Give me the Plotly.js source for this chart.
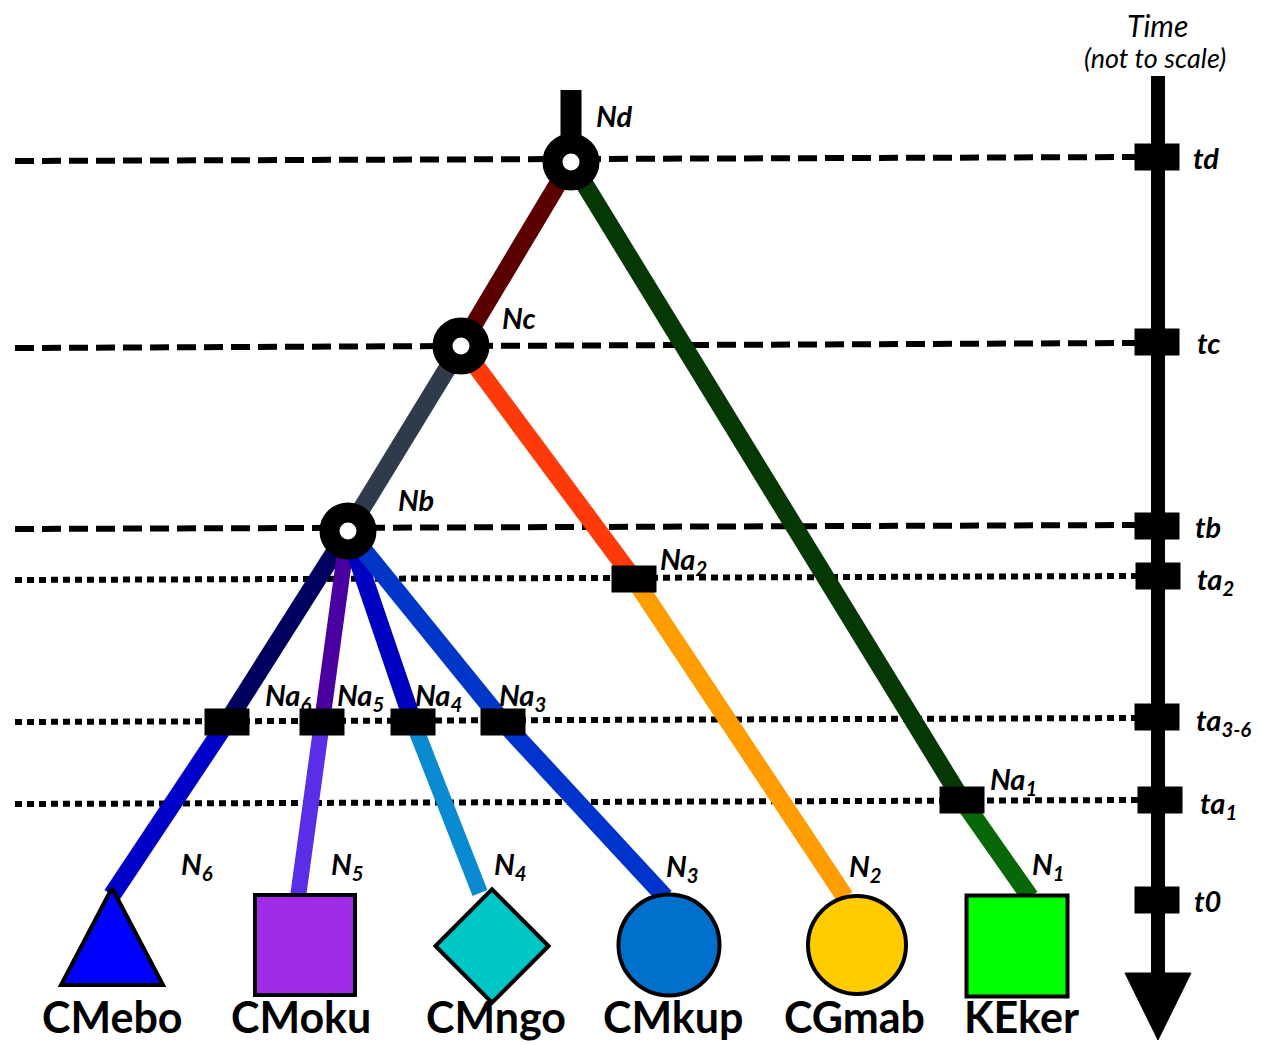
<!DOCTYPE html>
<html>
<head>
<meta charset="utf-8">
<script src="https://cdn.plot.ly/plotly-3.0.1.min.js"></script>
<style>html,body{margin:0;padding:0;background:#fff;}#chart{width:1262px;height:1045px;}</style>
</head>
<body>
<div id="chart"></div>
<script>
// ---------- data ----------
// internal nodes (coalescence events)
const nodeNames = ['Nd', 'Nc', 'Nb'];
const nodeX = [571, 461, 348];
const nodeY = [162, 346, 531];
const nodeLabelX = [614, 519, 416];
const nodeLabelY = [115, 317, 499];

// time levels
const timeLabels = ['td', 'tc', 'tb', 'ta<sub>2</sub>', 'ta<sub>3-6</sub>', 'ta<sub>1</sub>', 't0'];
const timeTickX = [1157, 1157, 1157, 1158, 1157, 1160, 1157];
const timeTickY = [157, 342, 526, 576, 717, 800, 900];
const timeLabelX = [1206, 1208, 1208, 1215, 1223, 1218, 1207];

// horizontal guide lines for each event time
const guideYLeft = [161, 348, 529, 580, 722, 804];
const guideYRight = [157, 343, 525, 576, 718, 800];
const guideDash = ['dash', 'dash', 'dash', 'dot', 'dot', 'dot'];

// branches (segments)
const branchX0 = [571, 571, 962, 461, 461, 634, 348, 227, 348, 322, 348, 413, 348, 503];
const branchY0 = [162, 162, 800, 346, 346, 579, 531, 722, 531, 722, 531, 722, 531, 722];
const branchX1 = [461, 962, 1030, 348, 634, 845, 227, 112, 322, 298, 413, 480, 503, 665];
const branchY1 = [346, 800, 897, 531, 579, 897, 722, 895, 722, 897, 722, 893, 722, 897];
const branchColor = ['#5a0000', '#053805', '#086808', '#2f3a4b', '#ff3a0a', '#ff9c00',
                     '#00005e', '#0000c8', '#4a00a0', '#5a2ee6', '#0000c0', '#0a8ad0',
                     '#0036c8', '#0033cc'];
const branchWidth = [18, 18, 18, 18, 18, 18, 18, 18, 16, 16, 18, 16, 18, 18];

// admixture / sampling nodes
const naLabels = ['Na<sub>1</sub>', 'Na<sub>2</sub>', 'Na<sub>3</sub>', 'Na<sub>4</sub>', 'Na<sub>5</sub>', 'Na<sub>6</sub>'];
const naX = [962, 634, 503, 413, 322, 227];
const naY = [800, 579, 722, 722, 722, 722];
const naLabelX = [1013, 683, 522, 438, 360, 288];
const naLabelY = [776, 556, 692, 692, 692, 692];

// terminal populations
const popNames = ['CMebo', 'CMoku', 'CMngo', 'CMkup', 'CGmab', 'KEker'];
const popX = [112, 305, 492, 669, 857, 1017];
const popY = [940, 945, 946, 945, 945, 946];
const popLabelX = [112, 301, 496, 673, 854, 1021];
const popSymbol = ['triangle', 'square', 'diamond', 'circle', 'circle', 'square'];
const popColor = ['#0000ff', '#9e2be6', '#00c6c8', '#0070cc', '#ffcc00', '#00ff00'];
const popSize = [100, 100, 87, 101, 98, 101];
const nLabels = ['N<sub>6</sub>', 'N<sub>5</sub>', 'N<sub>4</sub>', 'N<sub>3</sub>', 'N<sub>2</sub>', 'N<sub>1</sub>'];
const nLabelX = [197, 347, 510, 682, 865, 1048];
const nLabelY = [861, 861, 861, 863, 863, 861];

// time axis
const axisX = 1158;
const axisTop = 76;
const axisBottom = 975;
const arrowTipY = 1040;

// ---------- build ----------
const traces = [];
const BI = {family: 'Lato, "Open Sans", sans-serif', size: 29, color: '#000', weight: 'bold', style: 'italic'};

// guides
for (let i = 0; i < guideYLeft.length; i++) {
  traces.push({
    x: [15, timeTickX[i] - 22], y: [guideYLeft[i], guideYRight[i]],
    mode: 'lines', hoverinfo: 'skip',
    line: {color: '#000', width: 6,
           dash: guideDash[i] === 'dash' ? '19px,8px' : '7px,5px'}
  });
}
// time axis line + arrowhead
traces.push({x: [axisX, axisX], y: [axisTop, axisBottom], mode: 'lines', hoverinfo: 'skip',
  line: {color: '#000', width: 14}});
traces.push({x: [axisX - 33, axisX + 33, axisX, axisX - 33], y: [axisBottom - 2, axisBottom - 2, arrowTipY, axisBottom - 2],
  mode: 'lines', fill: 'toself', fillcolor: '#000', line: {color: '#000', width: 1}, hoverinfo: 'skip'});
// root stem
traces.push({x: [nodeX[0], nodeX[0]], y: [90, nodeY[0]], mode: 'lines', hoverinfo: 'skip',
  line: {color: '#000', width: 21}});
// branches
for (let i = 0; i < branchX0.length; i++) {
  traces.push({x: [branchX0[i], branchX1[i]], y: [branchY0[i], branchY1[i]], mode: 'lines',
    hoverinfo: 'skip', line: {color: branchColor[i], width: branchWidth[i]}});
}
// terminal populations
for (let i = 0; i < popNames.length; i++) {
  if (popSymbol[i] === 'triangle') {
    const h = 97, w = 102;
    const cx = popX[i], top = popY[i] - 52;
    traces.push({x: [cx, cx + w / 2, cx - w / 2, cx], y: [top, top + h, top + h, top],
      mode: 'lines', fill: 'toself', fillcolor: popColor[i], line: {color: '#000', width: 4}, hoverinfo: 'skip'});
  } else {
    traces.push({x: [popX[i]], y: [popY[i]], mode: 'markers', hoverinfo: 'skip',
      marker: {symbol: popSymbol[i], size: popSize[i], color: popColor[i], line: {color: '#000', width: 4}}});
  }
}
// internal nodes
traces.push({x: nodeX, y: nodeY, mode: 'markers', hoverinfo: 'skip',
  marker: {symbol: 'circle', size: 37, color: '#fff', line: {color: '#000', width: 20}}});

// shapes: rectangles for Na events and time ticks
const shapes = [];
for (let i = 0; i < naX.length; i++) {
  shapes.push({type: 'rect', xref: 'x', yref: 'y', x0: naX[i] - 22.5, x1: naX[i] + 22.5,
    y0: naY[i] - 13.5, y1: naY[i] + 13.5, fillcolor: '#000', line: {width: 0}});
}
for (let i = 0; i < timeTickY.length; i++) {
  shapes.push({type: 'rect', xref: 'x', yref: 'y', x0: timeTickX[i] - 22.5, x1: timeTickX[i] + 22.5,
    y0: timeTickY[i] - 13.5, y1: timeTickY[i] + 13.5, fillcolor: '#000', line: {width: 0}});
}

// annotations
const ann = [];
function label(text, x, y, font) {
  ann.push({text: text, x: x, y: y, xref: 'x', yref: 'y', showarrow: false,
    xanchor: 'center', yanchor: 'middle', font: font});
}
for (let i = 0; i < nodeNames.length; i++) label(nodeNames[i], nodeLabelX[i], nodeLabelY[i], BI);
for (let i = 0; i < naLabels.length; i++) label(naLabels[i], naLabelX[i], naLabelY[i] + 4, BI);
for (let i = 0; i < nLabels.length; i++) label(nLabels[i], nLabelX[i], nLabelY[i] + 4, BI);
for (let i = 0; i < timeLabels.length; i++) label(timeLabels[i], timeLabelX[i], timeTickY[i] + (timeLabels[i].indexOf('sub') > 0 ? 4 : 0), BI);
for (let i = 0; i < popNames.length; i++) label(popNames[i], popLabelX[i], 1016,
  {family: 'Lato, "Open Sans", sans-serif', size: 43, color: '#000', weight: 'bold'});
label('Time', 1157, 25, {family: 'Lato, "Open Sans", sans-serif', size: 30, color: '#000', style: 'italic'});
label('(not to scale)', 1155, 57, {family: 'Lato, "Open Sans", sans-serif', size: 27, color: '#000', style: 'italic'});

const layout = {
  width: 1262, height: 1045,
  margin: {l: 0, r: 0, t: 0, b: 0},
  paper_bgcolor: '#fff', plot_bgcolor: '#fff',
  showlegend: false,
  xaxis: {range: [0, 1262], visible: false, fixedrange: true},
  yaxis: {range: [1045, 0], visible: false, fixedrange: true},
  shapes: shapes,
  annotations: ann
};
Plotly.newPlot('chart', traces, layout, {staticPlot: true, displayModeBar: false});
</script>
</body>
</html>
